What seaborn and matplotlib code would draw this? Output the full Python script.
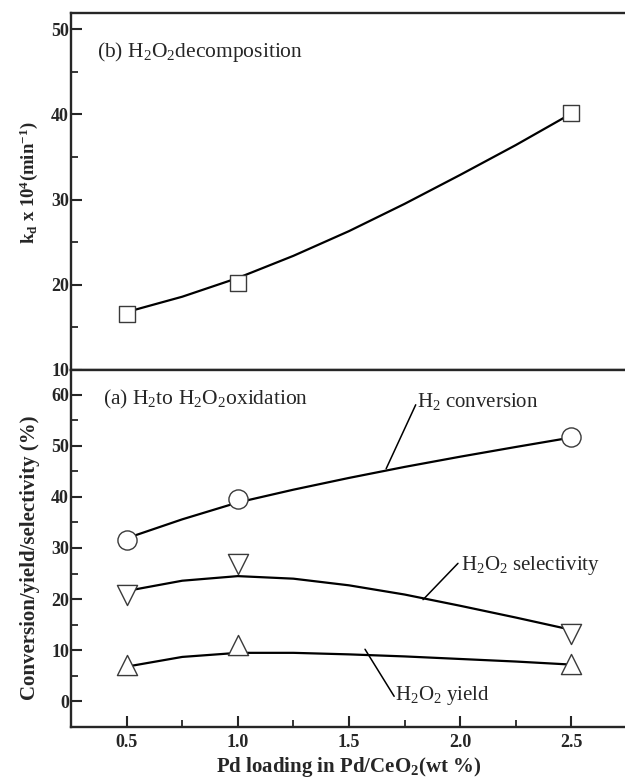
import matplotlib
matplotlib.use("Agg")
import matplotlib.pyplot as plt
import seaborn as sns

# ---- data ----
pd_loading = [0.5, 1.0, 2.5]
kd_values = [16.6, 20.2, 40.2]
h2_conversion = [31.5, 39.5, 51.7]
h2o2_selectivity = [20.8, 26.8, 13.1]
h2o2_yield = [7.2, 11.1, 7.4]

# smooth guide curves (read at these x positions)
curve_x = [0.5, 0.75, 1.0, 1.25, 1.5, 1.75, 2.0, 2.25, 2.5]
kd_curve = [16.8, 18.6, 20.8, 23.4, 26.3, 29.5, 32.9, 36.4, 40.1]
conv_curve = [31.9, 35.6, 38.9, 41.4, 43.7, 45.85, 47.85, 49.75, 51.6]
sel_curve = [21.6, 23.6, 24.5, 24.0, 22.7, 20.9, 18.7, 16.4, 14.0]
yield_curve = [6.8, 8.7, 9.5, 9.5, 9.2, 8.8, 8.3, 7.8, 7.2]

x_ticks = [0.5, 1.0, 1.5, 2.0, 2.5]
x_ticklabels = ["0.5", "1.0", "1.5", "2.0", "2.5"]
top_yticks = [10, 20, 30, 40, 50]
bot_yticks = [0, 10, 20, 30, 40, 50, 60]

sns.set_style("ticks")
plt.rcParams["font.family"] = ["Liberation Serif", "DejaVu Serif"]
plt.rcParams["mathtext.fontset"] = "custom"
plt.rcParams["mathtext.rm"] = "Liberation Serif"
plt.rcParams["mathtext.it"] = "Liberation Serif:italic"
plt.rcParams["mathtext.bf"] = "Liberation Serif:bold"

fig = plt.figure(figsize=(6.25, 7.79), dpi=100)
left = 71 / 625
width = 556 / 625
ax_top = fig.add_axes([left, 1 - 370 / 779, width, (370 - 13) / 779])
ax_bot = fig.add_axes([left, 1 - 727 / 779, width, (727 - 370) / 779])

mk_edge = "#3a3a3a"
line_kw = dict(color="black", linewidth=1.6, sort=False, estimator=None, legend=False)
sc_kw = dict(facecolor="white", edgecolor=mk_edge, linewidth=1.0, zorder=5, legend=False)

# top panel
sns.lineplot(x=curve_x, y=kd_curve, ax=ax_top, **line_kw)
sns.scatterplot(x=pd_loading, y=kd_values, ax=ax_top, marker="s", s=140, **sc_kw)

# bottom panel
sns.lineplot(x=curve_x, y=conv_curve, ax=ax_bot, **line_kw)
sns.lineplot(x=curve_x, y=sel_curve, ax=ax_bot, **line_kw)
sns.lineplot(x=curve_x, y=yield_curve, ax=ax_bot, **line_kw)
sns.scatterplot(x=pd_loading, y=h2_conversion, ax=ax_bot, marker="o", s=190, **sc_kw)
sns.scatterplot(x=pd_loading, y=h2o2_selectivity, ax=ax_bot, marker="v", s=210, **sc_kw)
sns.scatterplot(x=pd_loading, y=h2o2_yield, ax=ax_bot, marker="^", s=210, **sc_kw)

for ax in (ax_top, ax_bot):
    ax.set_xlim(0.25, 2.75)
    for sp in ax.spines.values():
        sp.set_linewidth(1.7)
    ax.tick_params(which="major", direction="in", length=8, width=1.5,
                   labelsize=13)
    ax.tick_params(which="minor", direction="in", length=5, width=1.3)
    ax.tick_params(axis="y", which="major", pad=1.5)
    ax.tick_params(axis="x", which="major", pad=5)
    ax.set_xticks(x_ticks)
    ax.set_xticks([0.75, 1.25, 1.75, 2.25], minor=True)

ax_top.set_ylim(10, 51.9)
ax_top.set_yticks(top_yticks)
ax_top.set_yticks([15, 25, 35, 45], minor=True)
ax_top.tick_params(axis="x", which="both", bottom=False, labelbottom=False)
ax_top.set_yticklabels([str(v) for v in top_yticks], fontweight="bold")
ax_top.set_ylabel(r"k$_\mathbf{d}$ x 10$^\mathbf{4}$(min$^\mathbf{-1}$)",
                  fontsize=13.5, fontweight="bold")
ax_top.yaxis.set_label_coords(-0.055, 0.525)

ax_bot.set_ylim(-5, 64.8)
ax_bot.set_yticks(bot_yticks)
ax_bot.set_yticks([5, 15, 25, 35, 45, 55], minor=True)
ax_bot.set_yticklabels([str(v) for v in bot_yticks], fontweight="bold")
ax_bot.set_xticklabels(x_ticklabels, fontweight="bold")
ax_bot.set_xlabel(r"Pd loading in Pd/CeO$_\mathbf{2}$(wt %)", fontsize=15,
                  fontweight="bold", labelpad=3)
ax_bot.set_ylabel("Conversion/yield/selectivity (%)", fontsize=15,
                  fontweight="bold")
ax_bot.yaxis.set_label_coords(-0.055, 0.475)

# panel labels
ax_top.text(0.365, 46.7, r"(b) H$_2$O$_2$decomposition", fontsize=15.5,
            va="baseline", ha="left")
ax_bot.text(0.392, 58.0, r"(a) H$_2$to H$_2$O$_2$oxidation", fontsize=15.5,
            va="baseline", ha="left")

# annotations: leader lines and labels
lead_kw = dict(color="black", lw=1.1)
ax_bot.plot([1.667, 1.80], [45.5, 58.0], **lead_kw)
ax_bot.text(1.806, 57.6, r"H$_2$ conversion", fontsize=15, va="baseline", ha="left")
ax_bot.plot([1.833, 1.99], [19.9, 27.0], **lead_kw)
ax_bot.text(2.005, 25.6, r"H$_2$O$_2$ selectivity", fontsize=15, va="baseline", ha="left")
ax_bot.plot([1.572, 1.703], [10.2, 1.0], **lead_kw)
ax_bot.text(1.707, 0.3, r"H$_2$O$_2$ yield", fontsize=15, va="baseline", ha="left")

fig.savefig("out.png", dpi=100)
